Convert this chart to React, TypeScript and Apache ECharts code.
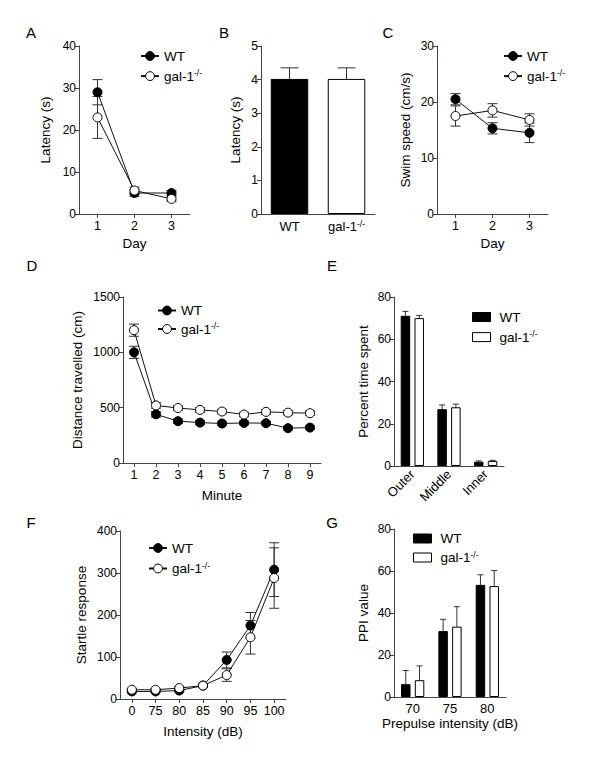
import React, { useEffect, useRef } from 'react';
import * as echarts from 'echarts';

const FONT = '"Liberation Sans", Arial, Helvetica, sans-serif';
const GAL = 'gal-1-/-';

// Panel A: latency by day
const daysA = ['1', '2', '3'];
const wtA = [29, 5, 5];
const wtAErr = [3, 0.8, 0.6];
const galA = [23, 5.6, 3.6];
const galAErr = [5, 0.8, 0.6];

// Panel B: latency by group
const groupsB = ['WT', GAL];
const valuesB = [4.02, 4.02];
const errB = [0.33, 0.33];

// Panel C: swim speed by day
const daysC = ['1', '2', '3'];
const wtC = [20.5, 15.3, 14.5];
const wtCErr = [1.0, 1.0, 1.75];
const galC = [17.5, 18.5, 16.8];
const galCErr = [1.8, 1.2, 1.1];

// Panel D: distance travelled by minute
const minutesD = ['1', '2', '3', '4', '5', '6', '7', '8', '9'];
const wtD = [1000, 440, 378, 365, 357, 362, 360, 315, 320];
const wtDErr = [55, 25, 20, 20, 15, 15, 15, 15, 15];
const galD = [1200, 520, 497, 480, 465, 438, 462, 455, 450];
const galDErr = [55, 25, 20, 20, 20, 20, 20, 20, 20];

// Panel E: percent time spent by zone
const zonesE = ['Outer', 'Middle', 'Inner'];
const wtE = [71.1, 26.9, 2.0];
const wtEErr = [2.1, 2.0, 0.4];
const galE = [70.0, 27.8, 2.4];
const galEErr = [1.3, 1.5, 0.3];

// Panel F: startle response by intensity
const intensF = ['0', '75', '80', '85', '90', '95', '100'];
const wtF = [18, 18, 20, 32, 93, 175, 308];
const wtFErr = [3, 3, 3, 4, 19, 31, 64];
const galF = [22, 22, 26, 32, 57, 147, 288];
const galFErr = [3, 3, 3, 4, 15, 40, 72];

// Panel G: PPI by prepulse intensity
const prepulseG = ['70', '75', '80'];
const wtG = [6.1, 31.4, 53.4];
const wtGErr = [6.5, 5.6, 4.8];
const galG = [8.0, 33.5, 52.8];
const galGErr = [6.8, 9.5, 7.4];

const AXIS_COLOR = '#444';
const TEXT_COLOR = '#000';
const BAR_W = 9.5;
const BAR_GAP = 0.45;
const NAME_SIZE = 13.5;
const TICK_SIZE = 12;
const LEG_SIZE = 13.5;

const makeRich = (size: number) => ({
  a: { fontFamily: FONT, fontSize: size, color: TEXT_COLOR, lineHeight: 15 },
  b: { fontFamily: FONT, fontSize: 8.5, color: TEXT_COLOR, lineHeight: 7, verticalAlign: 'top' },
});
const fmtName = (n: string) => (n === GAL ? '{a|gal-1}{b|-/-}' : '{a|' + n + '}');

function yAx(gi: number, max: number, interval: number, name: string, nameGap: number) {
  return {
    type: 'value', gridIndex: gi, min: 0, max, interval,
    name, nameLocation: 'middle', nameGap,
    nameTextStyle: { fontFamily: FONT, fontSize: NAME_SIZE, color: TEXT_COLOR },
    axisLine: { show: true, lineStyle: { color: AXIS_COLOR, width: 1 } },
    axisTick: { show: true, length: 4, lineStyle: { color: AXIS_COLOR, width: 1 } },
    axisLabel: { fontFamily: FONT, fontSize: TICK_SIZE, color: TEXT_COLOR, margin: 3, formatter: (v: number) => String(v) },
    splitLine: { show: false },
  };
}

function xAx(gi: number, data: string[], ticks: boolean, name: string, nameGap: number, extraLabel: any = {}) {
  return {
    type: 'category', gridIndex: gi, data,
    name, nameLocation: 'middle', nameGap,
    nameTextStyle: { fontFamily: FONT, fontSize: NAME_SIZE, color: TEXT_COLOR },
    axisLine: { show: true, lineStyle: { color: AXIS_COLOR, width: 1 } },
    axisTick: { show: ticks, alignWithLabel: true, length: 4, lineStyle: { color: AXIS_COLOR, width: 1 } },
    axisLabel: { fontFamily: FONT, fontSize: 12.5, color: TEXT_COLOR, margin: 5, interval: 0, ...extraLabel },
    splitLine: { show: false },
  };
}

function lineS(name: string, ai: number, data: number[], filled: boolean) {
  return {
    type: 'line', name, xAxisIndex: ai, yAxisIndex: ai, data,
    symbol: 'circle', symbolSize: 9, z: 3,
    lineStyle: { color: '#111', width: 1 },
    itemStyle: filled
      ? { color: '#000', borderColor: '#000', borderWidth: 1 }
      : { color: '#fff', borderColor: '#000', borderWidth: 1 },
  };
}

function barS(name: string, ai: number, data: number[], filled: boolean) {
  return {
    type: 'bar', name, xAxisIndex: ai, yAxisIndex: ai, data,
    barWidth: BAR_W, barGap: BAR_GAP * 100 + '%', z: 2,
    itemStyle: filled
      ? { color: '#000', borderColor: '#000', borderWidth: 1 }
      : { color: '#fff', borderColor: '#000', borderWidth: 1 },
  };
}

function errS(id: string, ai: number, vals: number[], errs: number[], off: number, cap: number, upOnly: boolean) {
  return {
    type: 'custom', name: id, xAxisIndex: ai, yAxisIndex: ai, z: 2, silent: true,
    data: vals.map((v, i) => [i, v, errs[i]]),
    encode: { x: 0, y: 1 },
    renderItem: (params: any, api: any) => {
      const i = api.value(0);
      const v = api.value(1);
      const e = api.value(2);
      const p1 = api.coord([i, v + e]);
      const p0 = api.coord([i, upOnly ? v : v - e]);
      const x = p1[0] + off;
      const style = { stroke: '#333', lineWidth: 1 };
      const children: any[] = [
        { type: 'line', shape: { x1: x, y1: p1[1], x2: x, y2: p0[1] }, style },
        { type: 'line', shape: { x1: x - cap / 2, y1: p1[1], x2: x + cap / 2, y2: p1[1] }, style },
      ];
      if (!upOnly) {
        children.push({ type: 'line', shape: { x1: x - cap / 2, y1: p0[1], x2: x + cap / 2, y2: p0[1] }, style });
      }
      return { type: 'group', children };
    },
  };
}

function legendLine(left: number, top: number, gap: number) {
  return {
    orient: 'vertical', left, top, padding: 0, itemGap: gap,
    itemWidth: 18, itemHeight: 11, selectedMode: false,
    data: ['WT', GAL], formatter: fmtName,
    itemStyle: { borderWidth: 1 },
    textStyle: { fontFamily: FONT, fontSize: LEG_SIZE, color: TEXT_COLOR, rich: makeRich(LEG_SIZE) },
  };
}

function legendBar(left: number, top: number, gap: number) {
  return {
    orient: 'vertical', left, top, padding: 0, itemGap: gap,
    itemWidth: 18, itemHeight: 9, selectedMode: false,
    data: [
      { name: 'WT', icon: 'rect', itemStyle: { color: '#000', borderColor: '#000', borderWidth: 1 } },
      { name: GAL, icon: 'rect', itemStyle: { color: '#fff', borderColor: '#000', borderWidth: 1 } },
    ],
    formatter: fmtName,
    textStyle: { fontFamily: FONT, fontSize: LEG_SIZE, color: TEXT_COLOR, rich: makeRich(LEG_SIZE), padding: [0, 0, 0, 4] },
  };
}

function letter(t: string, x: number, y: number) {
  return {
    type: 'text', x, y,
    style: { text: t, fontFamily: FONT, fontSize: 15, fill: TEXT_COLOR, textAlign: 'center', textVerticalAlign: 'middle' },
  };
}

export default function App() {
  const ref = useRef<HTMLDivElement>(null);
  useEffect(() => {
    document.body.style.margin = '0';
    if (!ref.current) return;
    const chart = echarts.init(ref.current, null, { renderer: 'svg' });
    const barOff = (BAR_W + BAR_W * BAR_GAP) / 2;
    const option: any = {
      animation: false,
      backgroundColor: '#fff',
      textStyle: { fontFamily: FONT },
      grid: [
        { left: 79, top: 46, width: 111, height: 168 },
        { left: 261, top: 46, width: 114, height: 168 },
        { left: 437, top: 46, width: 111, height: 168 },
        { left: 123, top: 297, width: 198, height: 166 },
        { left: 394, top: 297, width: 110, height: 169 },
        { left: 120, top: 531, width: 166, height: 168 },
        { left: 394, top: 529, width: 112, height: 168 },
      ],
      xAxis: [
        xAx(0, daysA, true, 'Day', 22),
        xAx(1, groupsB, false, '', 0, { formatter: fmtName, rich: makeRich(13) }),
        xAx(2, daysC, true, 'Day', 22),
        xAx(3, minutesD, true, 'Minute', 25),
        xAx(4, zonesE, false, '', 0, { rotate: 45, margin: 6, fontSize: 13 }),
        xAx(5, intensF, true, 'Intensity (dB)', 25),
        xAx(6, prepulseG, false, 'Prepulse intensity (dB)', 19.5, { fontSize: 13 }),
      ],
      yAxis: [
        yAx(0, 40, 10, 'Latency (s)', 26.5),
        yAx(1, 5, 1, 'Latency (s)', 18.5),
        yAx(2, 30, 10, 'Swim speed (cm/s)', 25),
        yAx(3, 1500, 500, 'Distance travelled (cm)', 38.5),
        yAx(4, 80, 20, 'Percent time spent', 24),
        yAx(5, 400, 100, 'Startle response', 32),
        yAx(6, 80, 20, 'PPI value', 24),
      ],
      legend: [
        legendLine(140, 49, 5.6),
        legendLine(503, 49, 5.6),
        legendLine(157, 303.5, 4),
        legendLine(148, 541, 6),
        legendBar(472, 310, 5.6),
        legendBar(413, 531.5, 4.5),
      ],
      series: [
        // A
        errS('eA1', 0, wtA, wtAErr, 0, 10, false),
        errS('eA2', 0, galA, galAErr, 0, 10, false),
        lineS('WT', 0, wtA, true),
        lineS(GAL, 0, galA, false),
        // B
        {
          type: 'bar', name: 'B', xAxisIndex: 1, yAxisIndex: 1, barWidth: 37.5, z: 2,
          data: valuesB.map((v, i) => ({
            value: v,
            itemStyle: i === 0
              ? { color: '#000', borderColor: '#000', borderWidth: 1 }
              : { color: '#fff', borderColor: '#000', borderWidth: 1 },
          })),
        },
        errS('eB', 1, valuesB, errB, 0, 18, true),
        // C
        errS('eC1', 2, wtC, wtCErr, 0, 10, false),
        errS('eC2', 2, galC, galCErr, 0, 10, false),
        lineS('WT', 2, wtC, true),
        lineS(GAL, 2, galC, false),
        // D
        errS('eD1', 3, wtD, wtDErr, 0, 10, false),
        errS('eD2', 3, galD, galDErr, 0, 10, false),
        lineS('WT', 3, wtD, true),
        lineS(GAL, 3, galD, false),
        // E
        barS('WT', 4, wtE, true),
        barS(GAL, 4, galE, false),
        errS('eE1', 4, wtE, wtEErr, -barOff, 6, true),
        errS('eE2', 4, galE, galEErr, barOff, 6, true),
        // F
        errS('eF1', 5, wtF, wtFErr, 0, 10, false),
        errS('eF2', 5, galF, galFErr, 0, 10, false),
        lineS('WT', 5, wtF, true),
        lineS(GAL, 5, galF, false),
        // G
        barS('WT', 6, wtG, true),
        barS(GAL, 6, galG, false),
        errS('eG1', 6, wtG, wtGErr, -barOff, 6, true),
        errS('eG2', 6, galG, galGErr, barOff, 6, true),
      ],
      graphic: [
        letter('A', 31, 32),
        letter('B', 224, 32),
        letter('C', 388, 32),
        letter('D', 32, 265),
        letter('E', 332, 265),
        letter('F', 31, 522),
        letter('G', 332, 522),
      ],
    };
    chart.setOption(option);
    return () => chart.dispose();
  }, []);
  return <div ref={ref} style={{ width: 600, height: 778 }} />;
}
